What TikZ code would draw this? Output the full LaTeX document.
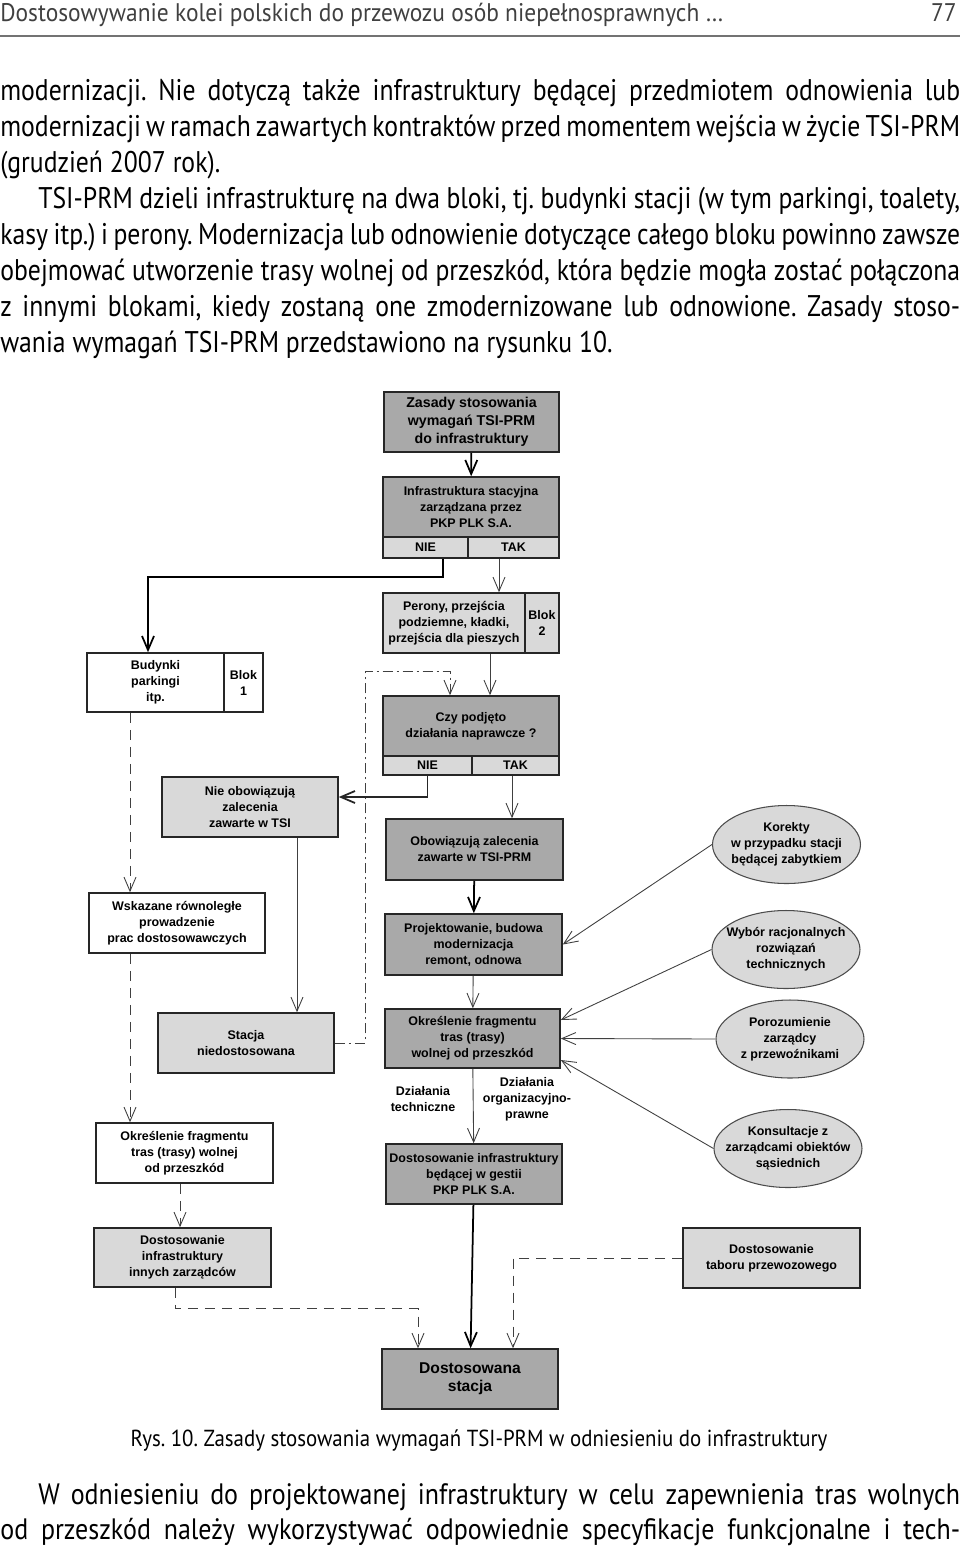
\documentclass[tikz,border=0pt]{standalone}
\usepackage{fontspec}
\usepackage{tikz}
\usetikzlibrary{calc}
\usetikzlibrary{arrows.meta}
\usetikzlibrary{shapes.geometric}
\newfontfamily\bodyfont{PT Sans}[FakeStretch=0.86]
\newfontfamily\captfont{PT Sans}[FakeStretch=0.9]
\newfontfamily\headfont{PT Sans}[FakeStretch=0.92]
\newfontfamily\lowerfont{PT Sans}[FakeStretch=0.88]
\newfontfamily\chartfont{Liberation Sans}
\frenchspacing
\definecolor{boxdark}{HTML}{A9A9A9}
\definecolor{boxlight}{HTML}{D9D9D9}
\tikzset{box/.style = {draw=black!85, line width=0.9pt, inner sep=1pt, align=center, minimum height=1.2cm, font=\chartfont\bfseries\fontsize{7.1}{9.1}\selectfont}}
\tikzset{darkbox/.style = {box, fill=boxdark}}
\tikzset{lightbox/.style = {box, fill=boxlight}}
\tikzset{whitebox/.style = {box, fill=white}}
\tikzset{oval/.style = {shape=ellipse, draw=black!70, line width=0.6pt, fill=boxlight, align=center, inner xsep=-7pt, inner ysep=0pt, minimum width=2.96cm, minimum height=1.56cm, font=\chartfont\bfseries\fontsize{7.1}{9.1}\selectfont}}
\tikzset{chartlabel/.style = {align=center, inner sep=0pt, font=\chartfont\bfseries\fontsize{7.1}{9.1}\selectfont}}
\tikzset{edge/.style = {-{Straight Barb[length=2.8mm,width=2.4mm]}, line width=0.5pt, draw=black!75}}
\tikzset{thickedge/.style = {edge, line width=1pt, draw=black}}
\tikzset{dashedge/.style = {edge, dash pattern=on 2mm off 1.4mm}}
\tikzset{dotedge/.style = {edge, dash pattern=on 2mm off 0.8mm on 0.4mm off 0.8mm}}
\tikzset{pagetext/.style = {anchor=base west, inner sep=0pt, font=\bodyfont\fontsize{17}{20}\selectfont}}

\begin{document}
\begin{tikzpicture}[x=0.02cm,y=-0.02cm]

            \fill[white] (0,0) rectangle (960,1546);
            \useasboundingbox (0,0) rectangle (960,1546);

            % page head and text above the figure
            \node[pagetext, font=\headfont\fontsize{14.5}{18}\selectfont, text=black!75] (naglowek) at (0,21) {Dostosowywanie kolei polskich do przewozu osób niepełnosprawnych …};
            \node[pagetext, anchor=base east, font=\headfont\fontsize{14.5}{18}\selectfont, text=black!75] (strona) at (957,21) {77};
            \draw[line width=1.2pt, black!55] (0,36) -- (960,36);

            \node[pagetext] (wiersza) at (0,100) {\makebox[19.2cm][s]{modernizacji. Nie dotyczą także infrastruktury będącej przedmiotem odnowienia lub}};
            \node[pagetext] (wierszb) at (0,136) {\makebox[19.2cm][s]{modernizacji w ramach zawartych kontraktów przed momentem wejścia w życie TSI-PRM}};
            \node[pagetext] (wierszc) at (0,172) {(grudzień 2007 rok).};
            \node[pagetext] (wierszd) at (38,208) {\makebox[18.44cm][s]{TSI-PRM dzieli infrastrukturę na dwa bloki, tj. budynki stacji (w tym parkingi, toalety,}};
            \node[pagetext] (wiersze) at (0,244) {\makebox[19.2cm][s]{kasy itp.) i perony. Modernizacja lub odnowienie dotyczące całego bloku powinno zawsze}};
            \node[pagetext] (wierszf) at (0,280) {\makebox[19.2cm][s]{obejmować utworzenie trasy wolnej od przeszkód, która będzie mogła zostać połączona}};
            \node[pagetext] (wierszg) at (0,316) {\makebox[19.2cm][s]{z innymi blokami, kiedy zostaną one zmodernizowane lub odnowione. Zasady stoso-}};
            \node[pagetext] (wierszh) at (0,352) {wania wymagań TSI-PRM przedstawiono na rysunku 10.};

            % boxes
            \node[darkbox, minimum width=3.5cm, font=\chartfont\bfseries\fontsize{8.1}{10.2}\selectfont] (zasady) at (471.5,422) {Zasady stosowania\\wymagań TSI-PRM\\do infrastruktury};
            \node[darkbox, minimum width=3.52cm] (stacyjna) at (471,507) {Infrastruktura stacyjna\\zarządzana przez\\PKP PLK S.A.};
            \node[lightbox, minimum width=1.7cm, minimum height=0.42cm] (stacnie) at (425.5,547.5) {NIE};
            \node[lightbox, minimum width=1.82cm, minimum height=0.42cm] (stactak) at (513.5,547.5) {TAK};

            \node[lightbox, minimum width=2.84cm] (perony) at (454,623) {Perony, przejścia\\podziemne, kładki,\\przejścia dla pieszych};
            \node[lightbox, minimum width=0.68cm] (blokdwa) at (542,623) {Blok\\2};
            \node[whitebox, minimum width=2.74cm, minimum height=1.18cm] (budynki) at (155.5,682.5) {Budynki\\parkingi\\itp.};
            \node[whitebox, minimum width=0.78cm, minimum height=1.18cm] (blokjeden) at (243.5,682.5) {Blok\\1};

            \node[darkbox, minimum width=3.52cm] (naprawcze) at (471,726) {Czy podjęto\\działania naprawcze ?};
            \node[lightbox, minimum width=1.78cm, minimum height=0.38cm] (naprnie) at (427.5,765.5) {NIE};
            \node[lightbox, minimum width=1.74cm, minimum height=0.38cm] (naprtak) at (515.5,765.5) {TAK};

            \node[lightbox, minimum width=3.52cm] (nieobow) at (250,807) {Nie obowiązują\\zalecenia\\zawarte w TSI};
            \node[darkbox, minimum width=3.54cm, minimum height=1.22cm] (obow) at (474.5,849.5) {Obowiązują zalecenia\\zawarte w TSI-PRM};
            \node[darkbox, minimum width=3.54cm, minimum height=1.22cm] (projekt) at (473.5,944.5) {Projektowanie, budowa\\modernizacja\\remont, odnowa};
            \node[darkbox, minimum width=3.5cm, minimum height=1.18cm] (fragment) at (472.5,1038.5) {Określenie fragmentu\\tras (trasy)\\wolnej od przeszkód};
            \node[darkbox, minimum width=3.52cm] (gestia) at (474,1174) {Dostosowanie infrastruktury\\będącej w gestii\\PKP PLK S.A.};
            \node[darkbox, minimum width=3.52cm, font=\chartfont\bfseries\fontsize{8.9}{10.3}\selectfont] (gotowa) at (470,1379) {Dostosowana\\stacja};

            \node[whitebox, minimum width=3.52cm] (wskazane) at (177,923) {Wskazane równoległe\\prowadzenie\\prac dostosowawczych};
            \node[lightbox, minimum width=3.52cm] (niedost) at (246,1043) {Stacja\\niedostosowana};
            \node[whitebox, minimum width=3.54cm] (fragmentl) at (184.5,1153) {Określenie fragmentu\\tras (trasy) wolnej\\od przeszkód};
            \node[lightbox, minimum width=3.54cm, minimum height=1.18cm] (innych) at (182.5,1257.5) {Dostosowanie\\infrastruktury\\innych zarządców};
            \node[lightbox, minimum width=3.54cm] (tabor) at (771.5,1258) {Dostosowanie\\taboru przewozowego};

            \node[oval] (korekty) at (786.5,844.5) {Korekty\\w przypadku stacji\\będącej zabytkiem};
            \node[oval] (wybor) at (786,949.5) {Wybór racjonalnych\\rozwiązań\\technicznych};
            \node[oval] (porozum) at (790,1039) {Porozumienie\\zarządcy\\z przewoźnikami};
            \node[oval] (konsult) at (788,1148.5) {Konsultacje z\\zarządcami obiektów\\sąsiednich};

            \node[chartlabel] (techniczne) at (423,1099) {Działania\\techniczne};
            \node[chartlabel] (organiz) at (527,1099) {Działania\\organizacyjno-\\prawne};

            % connectors
            \draw[thickedge] (zasady) to (stacyjna);
            \draw[thickedge] ([xshift=0.35cm]stacnie.south) -- ++(0,18) -| ([xshift=-0.15cm]budynki.north);
            \draw[edge] ([xshift=-0.29cm]stactak.south) -- ([xshift=-0.29cm]stactak.south |- perony.north);
            \draw[edge] ([xshift=0.72cm]perony.south) -- ([xshift=0.72cm]perony.south |- naprawcze.north);

            \coordinate (zawrot) at (365,671);
            \draw[dotedge] (niedost.east) -| (zawrot) -| ([xshift=-0.42cm]naprawcze.north);

            \draw[thickedge, draw=black!85] (naprnie.south) |- ([yshift=0.2cm]nieobow.east);
            \draw[edge] ([xshift=-0.07cm]naprtak.south) -- ([xshift=-0.07cm]naprtak.south |- obow.north);
            \draw[thickedge] (obow) to (projekt);
            \draw[edge] (projekt) to (fragment);
            \draw[edge] (fragment) to (gestia);
            \draw[thickedge] (gestia) to (gotowa);
            \draw[edge] ([xshift=0.94cm]nieobow.south) -- ([xshift=0.94cm]nieobow.south |- niedost.north);

            \draw[dashedge] ([xshift=-0.51cm]budynki.south) -- ([xshift=-0.51cm]budynki.south |- wskazane.north);
            \draw[dashedge] ([xshift=-0.94cm]wskazane.south) -- ([xshift=-0.94cm]wskazane.south |- fragmentl.north);
            \draw[dashedge] ([xshift=-0.09cm]fragmentl.south) -- ([xshift=-0.09cm]fragmentl.south |- innych.north);
            \draw[dashedge] ([xshift=-0.15cm]innych.south) -- ++(0,21) -| ([xshift=-1.04cm]gotowa.north);
            \draw[dashedge] (tabor.west) -| ([xshift=0.86cm]gotowa.north);

            \draw[edge] (korekty.west) to (projekt.east);
            \draw[edge] (wybor.west) to ([yshift=0.37cm]fragment.east);
            \draw[edge] (porozum.west) to (fragment.east);
            \draw[edge] (konsult.west) to ([yshift=-0.43cm]fragment.east);

            % caption and text below
            \node[pagetext, anchor=base, font=\captfont\fontsize{13.2}{16}\selectfont] (podpis) at (479,1446) {Rys. 10. Zasady stosowania wymagań TSI-PRM w odniesieniu do infrastruktury};
            \node[pagetext, font=\lowerfont\fontsize{16.8}{20}\selectfont] (dalszya) at (38,1504) {\makebox[18.44cm][s]{W odniesieniu do projektowanej infrastruktury w celu zapewnienia tras wolnych}};
            \node[pagetext, font=\lowerfont\fontsize{16.8}{20}\selectfont] (dalszyb) at (0,1539) {\makebox[19.2cm][s]{od przeszkód należy wykorzystywać odpowiednie specyfikacje funkcjonalne i tech-}};
            \end{tikzpicture}
\end{document}
